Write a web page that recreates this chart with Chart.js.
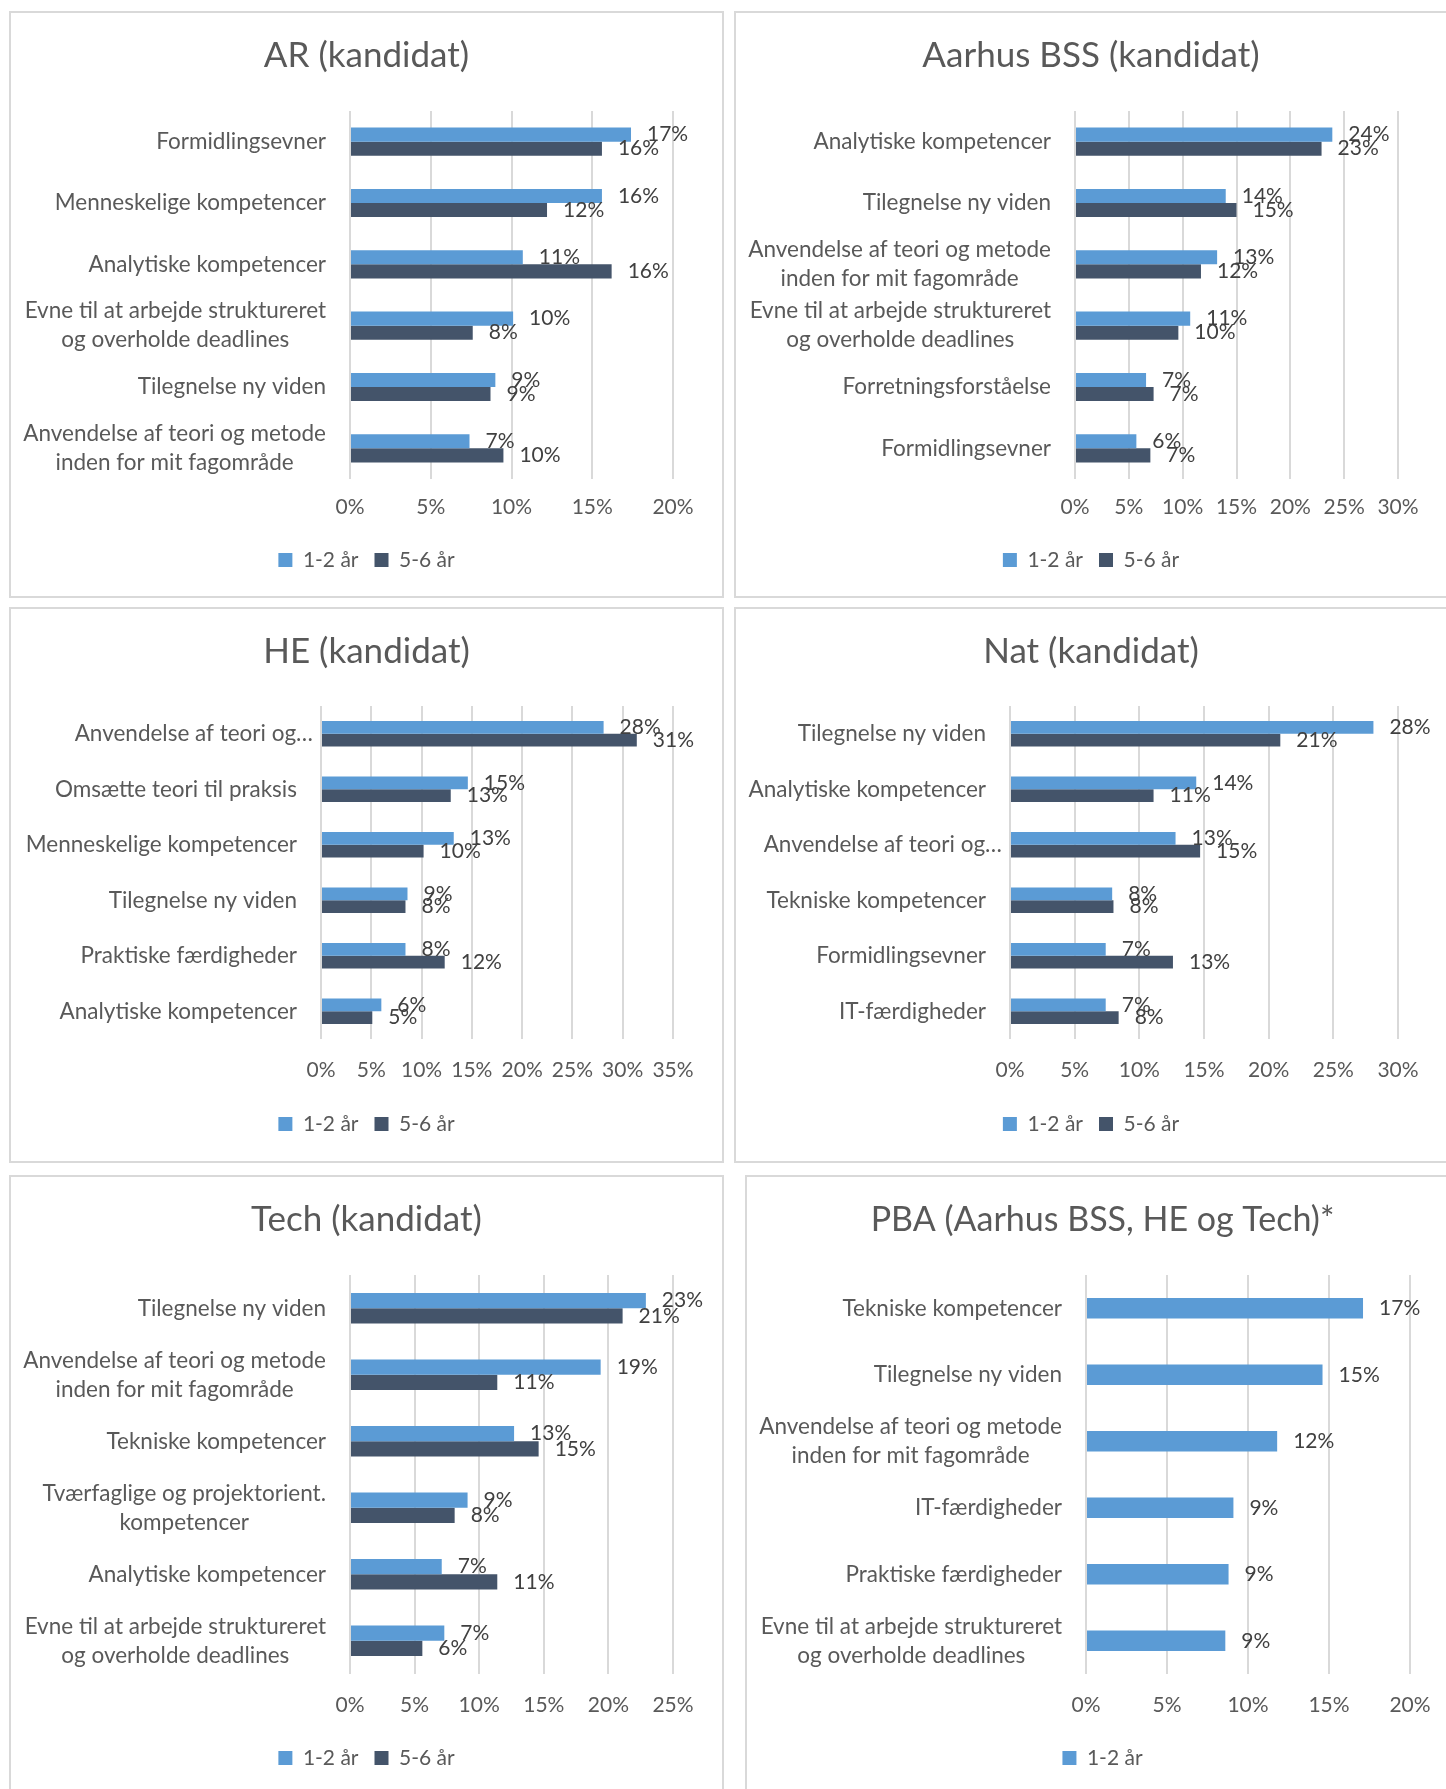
<!DOCTYPE html>
<html>
<head>
<meta charset="utf-8">
<script src="https://cdn.jsdelivr.net/npm/chart.js@4.4.1/dist/chart.umd.min.js"></script>
<style>
	html, body { margin: 0; padding: 0; background: #ffffff; }
	body { width: 1446px; height: 1789px; overflow: hidden; position: relative; }
	.panel { position: absolute; }
	.panel canvas { position: absolute; left: 0; top: 0; }
	.frame { position: absolute; left: 0; top: 0; right: 0; bottom: 0; border: 2px solid #d9d9d9; box-sizing: border-box; pointer-events: none; }
</style>
</head>
<body>
<script>
var serieNames = ['1-2 år', '5-6 år'];

var evneLabel = ['Evne til at arbejde struktureret', 'og overholde deadlines'];
var anvLabel = ['Anvendelse af teori og metode', 'inden for mit fagområde'];

var arLabels = ['Formidlingsevner', 'Menneskelige kompetencer', 'Analytiske kompetencer', evneLabel, 'Tilegnelse ny viden', anvLabel];
var ar12 = [17.4, 15.6, 10.7, 10.1, 9.0, 7.4];
var ar56 = [15.6, 12.2, 16.2, 7.6, 8.7, 9.5];
var arTicks = [0, 20, 5];

var bssLabels = ['Analytiske kompetencer', 'Tilegnelse ny viden', anvLabel, evneLabel, 'Forretningsforståelse', 'Formidlingsevner'];
var bss12 = [23.9, 14.0, 13.2, 10.7, 6.6, 5.7];
var bss56 = [22.9, 15.0, 11.7, 9.6, 7.3, 7.0];
var bssTicks = [0, 30, 5];

var heLabels = ['Anvendelse af teori og…', 'Omsætte teori til praksis', 'Menneskelige kompetencer', 'Tilegnelse ny viden', 'Praktiske færdigheder', 'Analytiske kompetencer'];
var he12 = [28.1, 14.6, 13.2, 8.6, 8.4, 6.0];
var he56 = [31.4, 12.9, 10.2, 8.4, 12.3, 5.1];
var heTicks = [0, 35, 5];

var natLabels = ['Tilegnelse ny viden', 'Analytiske kompetencer', 'Anvendelse af teori og…', 'Tekniske kompetencer', 'Formidlingsevner', 'IT-færdigheder'];
var nat12 = [28.1, 14.4, 12.8, 7.9, 7.4, 7.4];
var nat56 = [20.9, 11.1, 14.7, 8.0, 12.6, 8.4];
var natTicks = [0, 30, 5];

var techLabels = ['Tilegnelse ny viden', anvLabel, 'Tekniske kompetencer', ['Tværfaglige og projektorient.', 'kompetencer'], 'Analytiske kompetencer', evneLabel];
var tech12 = [22.9, 19.4, 12.7, 9.1, 7.1, 7.3];
var tech56 = [21.1, 11.4, 14.6, 8.1, 11.4, 5.6];
var techTicks = [0, 25, 5];

var pbaLabels = ['Tekniske kompetencer', 'Tilegnelse ny viden', anvLabel, 'IT-færdigheder', 'Praktiske færdigheder', evneLabel];
var pba12 = [17.1, 14.6, 11.8, 9.1, 8.8, 8.6];
var pbaTicks = [0, 20, 5];

var colors = ['#5b9bd5', '#44546a'];
var FONT = 'Lato';
var TEXT = '#595959';

// bar value labels, placed off the end of each bar element
var valueLabels = {
	id: 'valueLabels',
	afterDatasetsDraw: function(chart){
		var ctx = chart.ctx;
		ctx.save();
		ctx.font = '21px ' + FONT;
		ctx.fillStyle = '#404040';
		ctx.textAlign = 'left';
		ctx.textBaseline = 'middle';
		chart.data.datasets.forEach(function(ds, i){
			chart.getDatasetMeta(i).data.forEach(function(bar, j){
				ctx.fillText(Math.round(ds.data[j]) + '%', bar.x + 16, bar.y);
			});
		});
		ctx.restore();
	}
};

// category labels: lines centred in their block, block right aligned to the axis
var catLabels = {
	id: 'catLabels',
	afterDraw: function(chart){
		var ctx = chart.ctx;
		var sc = chart.scales.y;
		ctx.save();
		ctx.font = '22.5px ' + FONT;
		ctx.fillStyle = TEXT;
		ctx.textAlign = 'center';
		ctx.textBaseline = 'middle';
		chart.data.labels.forEach(function(lab, i){
			var lines = Array.isArray(lab) ? lab : [lab];
			var w = 0;
			lines.forEach(function(l){ w = Math.max(w, ctx.measureText(l).width); });
			var gap = /…$/.test(lines[lines.length - 1]) ? 8 : 24;
			var cx = chart.chartArea.left - gap - w / 2;
			var y0 = sc.getPixelForTick(i) - (lines.length - 1) * 29 / 2;
			lines.forEach(function(l, k){ ctx.fillText(l, cx, y0 + k * 29); });
		});
		ctx.restore();
	}
};

function makePanel(opt){
	var box = opt.box;
	var cw = opt.cw || box[2];
	var ch = box[3];

	var wrap = document.createElement('div');
	wrap.className = 'panel';
	wrap.style.left = box[0] + 'px';
	wrap.style.top = box[1] + 'px';
	wrap.style.width = box[2] + 'px';
	wrap.style.height = box[3] + 'px';
	var cv = document.createElement('canvas');
	cv.width = cw;
	cv.height = ch;
	cv.style.width = cw + 'px';
	cv.style.height = ch + 'px';
	wrap.appendChild(cv);
	var frame = document.createElement('div');
	frame.className = 'frame';
	wrap.appendChild(frame);
	document.body.appendChild(wrap);

	var p = opt.plot; // left, right, top, bottom in page px
	var yW = p[0] - box[0];
	var rW = box[0] + cw - p[1];
	var tfs = opt.tfs || 35;
	var lh = tfs * 1.2;
	var tPadTop = opt.titleY - box[1] - lh / 2;
	var tPadBot = (p[2] - box[1]) - tPadTop - lh;
	var lp = 16, itemH = 21;
	var legendH = itemH + lp + 10;
	var legendTop = opt.legendY - box[1] - lp - itemH / 2;
	var padBottom = ch - legendTop - legendH;
	var xH = legendTop - (p[3] - box[1]);
	var tickPad = opt.tickY - p[3] - 21 * 1.2 / 2;

	var datasets = opt.series.map(function(s, i){
		return {
			label: serieNames[i],
			data: s,
			backgroundColor: colors[i],
			borderWidth: 0,
			categoryPercentage: opt.catPct,
			barPercentage: 1,
			xAxisID: 'x',
			yAxisID: 'y'
		};
	});

	return new Chart(cv.getContext('2d'), {
		type: 'bar',
		data: { labels: opt.labels, datasets: datasets },
		options: {
			indexAxis: 'y',
			responsive: false,
			animation: false,
			devicePixelRatio: 1,
			layout: { padding: { top: 0, left: 0, right: 0, bottom: padBottom } },
			plugins: {
				title: {
					display: true,
					text: opt.title,
					color: TEXT,
					font: { family: FONT, size: tfs, weight: 'normal', lineHeight: 1.2 },
					padding: { top: tPadTop, bottom: tPadBot }
				},
				legend: {
					position: 'bottom',
					labels: {
						color: TEXT,
						font: { family: FONT, size: 21 },
						boxWidth: 14,
						boxHeight: 14,
						padding: lp
					}
				},
				tooltip: { enabled: false }
			},
			scales: {
				x: {
					position: 'bottom',
					min: opt.ticks[0],
					max: opt.ticks[1],
					grid: { color: '#d9d9d9', lineWidth: 2, drawTicks: false },
					border: { display: false },
					ticks: {
						stepSize: opt.ticks[2],
						autoSkip: false,
						maxRotation: 0,
						padding: tickPad,
						color: TEXT,
						font: { family: FONT, size: 21 },
						callback: function(v){ return v + '%'; }
					},
					afterFit: function(s){ s.height = xH; }
				},
				y: {
					position: 'left',
					grid: { display: false },
					border: { display: false },
					ticks: { display: false },
					afterFit: function(s){ s.width = yW; }
				},
				yR: {
					type: 'linear',
					position: 'right',
					grid: { display: false },
					border: { display: false },
					ticks: { display: false },
					afterFit: function(s){ s.width = rW; }
				}
			}
		},
		plugins: [valueLabels, catLabels]
	});
}

makePanel({ box: [9, 11, 715, 587], plot: [350, 673, 111, 479], titleY: 56, tickY: 507, legendY: 560,
	title: 'AR (kandidat)', labels: arLabels, series: [ar12, ar56], ticks: arTicks, catPct: 0.46 });
makePanel({ box: [734, 11, 714, 587], plot: [1075, 1398, 111, 479], titleY: 56, tickY: 507, legendY: 560,
	title: 'Aarhus BSS (kandidat)', labels: bssLabels, series: [bss12, bss56], ticks: bssTicks, catPct: 0.46 });
makePanel({ box: [9, 607, 715, 556], plot: [321, 673, 706, 1039], titleY: 652, tickY: 1070, legendY: 1124,
	title: 'HE (kandidat)', labels: heLabels, series: [he12, he56], ticks: heTicks, catPct: 0.46 });
makePanel({ box: [734, 607, 714, 556], plot: [1010, 1398, 706, 1039], titleY: 652, tickY: 1070, legendY: 1124,
	title: 'Nat (kandidat)', labels: natLabels, series: [nat12, nat56], ticks: natTicks, catPct: 0.46 });
makePanel({ box: [9, 1175, 715, 650], plot: [350, 673, 1275, 1674], titleY: 1220, tickY: 1705, legendY: 1758,
	title: 'Tech (kandidat)', labels: techLabels, series: [tech12, tech56], ticks: techTicks, catPct: 0.46 });
makePanel({ box: [745, 1175, 715, 650], plot: [1086, 1410, 1275, 1674], titleY: 1220, tickY: 1705, legendY: 1758, tfs: 34,
	title: 'PBA (Aarhus BSS, HE og Tech)*', labels: pbaLabels, series: [pba12], ticks: pbaTicks, catPct: 0.31 });
</script>
</body>
</html>
